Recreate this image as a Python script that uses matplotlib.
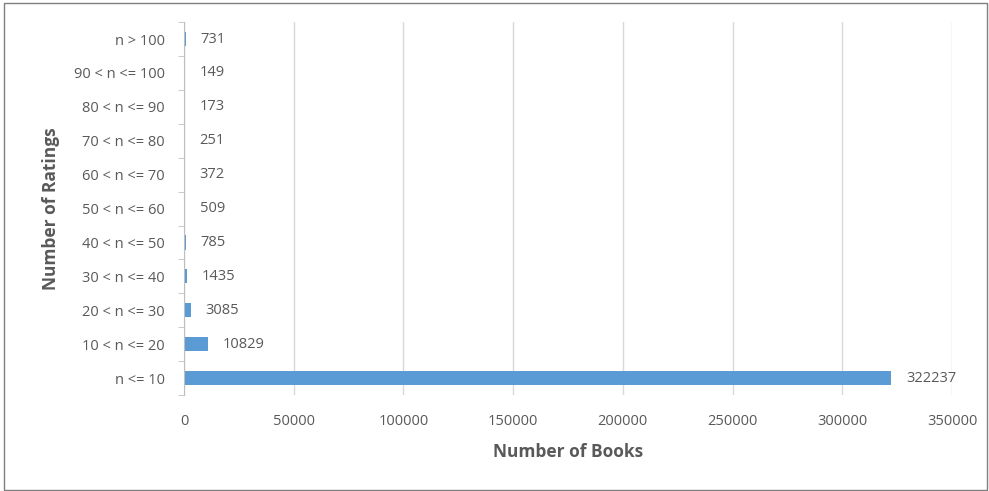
import matplotlib.pyplot as plt
from matplotlib.patches import Rectangle

categories = ['n <= 10', '10 < n <= 20', '20 < n <= 30', '30 < n <= 40', '40 < n <= 50',
              '50 < n <= 60', '60 < n <= 70', '70 < n <= 80', '80 < n <= 90',
              '90 < n <= 100', 'n > 100']
books = [322237, 10829, 3085, 1435, 785, 509, 372, 251, 173, 149, 731]
xticks = [0, 50000, 100000, 150000, 200000, 250000, 300000, 350000]

plt.rcParams['font.family'] = ['Open Sans', 'DejaVu Sans']
grey = '#595959'

fig = plt.figure(figsize=(9.89, 4.91), dpi=100)
ax = fig.add_axes([0.186, 0.1955, 0.7766, 0.7595])

ypos = list(range(len(categories)))
ax.barh(ypos, books, height=0.42, color='#5b9bd5', zorder=3)
for y, v in zip(ypos, books):
    ax.annotate(str(v), (v, y), xytext=(15, 0), textcoords='offset pixels',
                va='center', ha='left', fontsize=10.5, color=grey)

ax.set_xlim(0, 350000)
ax.set_ylim(-0.5, len(categories) - 0.5)
ax.set_xticks(xticks)
ax.set_xticklabels([str(t) for t in xticks], fontsize=10.5, color=grey)
ax.set_yticks(ypos)
ax.set_yticklabels(categories, fontsize=10.5, color=grey)
ax.tick_params(axis='x', length=0, pad=14)
ax.tick_params(axis='y', length=0, pad=14)
# small ticks at the borders between categories
ax.set_yticks([i - 0.5 for i in range(len(categories) + 1)], minor=True)
ax.tick_params(axis='y', which='minor', length=4, color='#bfbfbf', left=True)

ax.grid(axis='x', color='#d9d9d9', linewidth=1, zorder=0)
for s in ['top', 'right', 'bottom']:
    ax.spines[s].set_visible(False)
ax.spines['left'].set_color('#bfbfbf')
ax.spines['left'].set_zorder(4)

ax.set_xlabel('Number of Books', fontsize=12.5, fontweight='bold', color=grey, labelpad=10)
ax.set_ylabel('Number of Ratings', fontsize=12.5, fontweight='bold', color=grey, labelpad=10)

fig.patches.append(Rectangle((0.004, 0.002), 0.994, 0.992, transform=fig.transFigure,
                             fill=False, edgecolor='#7f7f7f', linewidth=1))

fig.savefig('out.png', dpi=100)
